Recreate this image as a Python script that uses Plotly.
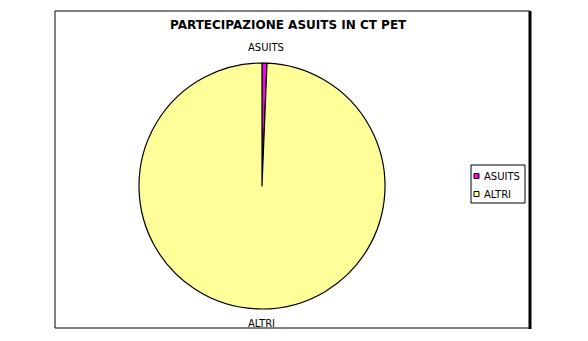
import plotly.graph_objects as go

labels = ["ASUITS", "ALTRI"]
values = [0.65, 99.35]
colors = ["#FF00FF", "#FFFF99"]
title_text = "PARTECIPAZIONE ASUITS IN CT PET"

W, H = 588, 341
cx, cy, r = 262, 186, 123

fig = go.Figure()
fig.add_trace(go.Pie(
    labels=labels, values=values, sort=False, direction="clockwise", rotation=0,
    marker=dict(colors=colors, line=dict(color="black", width=1.2)),
    textinfo="none",
    domain=dict(x=[(cx - r) / W, (cx + r) / W], y=[1 - (cy + r) / H, 1 - (cy - r) / H]),
    showlegend=False, hoverinfo="label+percent",
))

shapes = [
    dict(type="rect", xref="paper", yref="paper", x0=55 / W, x1=530 / W,
         y0=1 - 328 / H, y1=1 - 11 / H, line=dict(color="black", width=1)),
    dict(type="line", xref="paper", yref="paper", x0=530 / W, x1=530 / W,
         y0=1 - 329 / H, y1=1 - 11 / H, line=dict(color="black", width=3)),
    dict(type="rect", xref="paper", yref="paper", x0=471 / W, x1=525 / W,
         y0=1 - 203 / H, y1=1 - 165 / H, line=dict(color="black", width=1),
         fillcolor="white"),
]
annotations = [
    dict(text="<b>" + title_text + "</b>", xref="paper", yref="paper",
         x=288 / W, y=1 - 25 / H, showarrow=False, xanchor="center", yanchor="middle",
         font=dict(family="DejaVu Sans", size=12, color="black")),
]
# slice labels: above (first slice, near 12 o'clock) and below (second slice)
slice_label_y = [cy - r - 15, cy + r + 14]
slice_label_x = [cx + 4, cx - 1]
for lab, lx, ly in zip(labels, slice_label_x, slice_label_y):
    annotations.append(dict(text=lab, xref="paper", yref="paper", x=lx / W, y=1 - ly / H,
                            showarrow=False, xanchor="center", yanchor="middle",
                            font=dict(family="DejaVu Sans", size=10, color="black")))

rows_y = [176, 194]
for lab, col, yy in zip(labels, colors, rows_y):
    shapes.append(dict(type="rect", xref="paper", yref="paper",
                       x0=474 / W, x1=479 / W, y0=1 - (yy + 2.5) / H, y1=1 - (yy - 2.5) / H,
                       fillcolor=col, line=dict(color="black", width=1)))
    annotations.append(dict(text=lab, xref="paper", yref="paper", x=482 / W, y=1 - yy / H,
                            showarrow=False, xanchor="left", yanchor="middle",
                            font=dict(family="DejaVu Sans", size=10, color="black")))

fig.update_layout(
    width=W, height=H, margin=dict(l=0, r=0, t=0, b=0),
    paper_bgcolor="white", plot_bgcolor="white",
    shapes=shapes, annotations=annotations, showlegend=False,
)
fig.write_html("out.html")
